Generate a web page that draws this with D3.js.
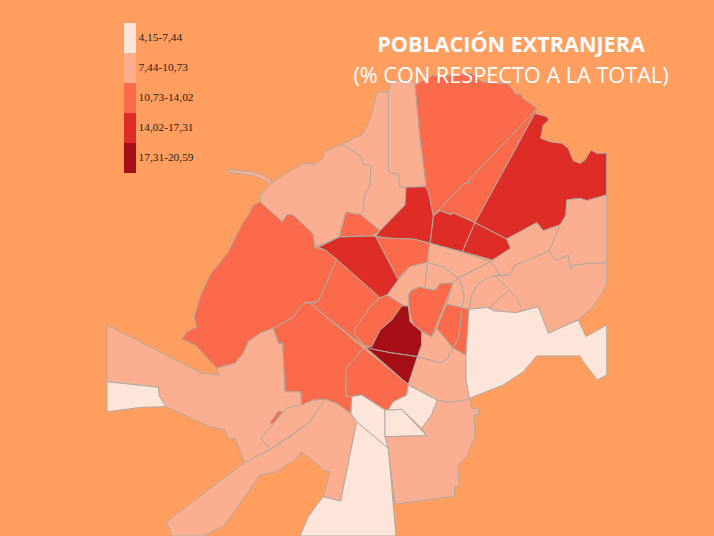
<!DOCTYPE html>
<html>
<head>
<meta charset="utf-8">
<script src="https://d3js.org/d3.v7.min.js"></script>
<style>
    html, body { margin: 0; padding: 0; background: #ff9e5e; }
    svg { display: block; }
</style>
</head>
<body>
<div id="map"></div>
<script>
// Legend classes
const classBreaks = [7.44, 10.73, 14.02, 17.31];
const classColors = ['#fee5d9', '#fcae91', '#fb6a4a', '#de2d26', '#a50f15'];
const classLabels = ['4,15-7,44', '7,44-10,73', '10,73-14,02', '14,02-17,31', '17,31-20,59'];

// % of foreign population per district
const districtValues = [
    9, 9, 9, 9, 12, 12, 12, 16, 16, 16, 16,
    12, 15.5, 12, 12, 12, 19, 19, 12, 9, 6, 9,
    9, 6, 6, 6, 6, 9, 9, 9, 12, 9, 9, 9, 12, 12,
    9, 9, 9, 9, 9, 9, 9, 6, 12
];

// District outlines, in map units
const districtRings = [
    [[260.7,195],[270,185],[283.3,175],[303.3,163.3],[315,164],[322.7,158.3],[324,151.7],[342.3,144],[361.7,157.3],[362.7,164],[371,166],[370,186.7],[364,196],[364,210],[360,214],[355,214],[345.7,212.3],[339.3,236.7],[318.3,246],[315,246],[312.7,233.3],[296.7,218.3],[291.7,214.3],[286.7,215],[282.3,221.7],[260,202.3]],
    [[227.3,169.3],[233,170],[251.7,171.7],[263.3,175],[272.3,181.7],[270,183.3],[255,176],[241.7,174],[230,172.7]],
    [[342.3,144],[356.7,136.7],[361.7,135],[366.7,126.7],[371.7,113.3],[376.7,93.3],[380,92],[388.3,91.7],[388.3,170],[390,173.3],[398.3,173.3],[400,186.7],[406,187.3],[405,205],[380,230.7],[360,214],[364,210],[364,196],[370,186.7],[371,166],[362.7,164],[361.7,157.3]],
    [[388.3,91.7],[391.7,81.7],[398,80],[413,81.7],[415,85],[420,138.3],[426,185],[425,186.7],[406,187.3],[400,186.7],[398.3,173.3],[390,173.3],[388.3,170]],
    [[415,85],[426.7,78.3],[433,75],[440,76.7],[455,75],[471.7,73.3],[481.7,81.7],[508,84],[513,90],[515,93.3],[521.7,95],[523,98.3],[537.3,108.3],[469,180],[468.3,184],[464,183.3],[433.3,216],[428.3,191.7],[425,186.7],[426,185],[420,138.3]],
    [[537.3,108.3],[535,113],[475,222.7],[452.7,212.7],[451.7,215],[440,210.7],[433.3,216],[464,183.3],[468.3,184],[469,180]],
    [[339.3,236.7],[346,211.7],[355,214],[360,214],[380,230.7],[371.7,236]],
    [[535,113.3],[546.7,116.7],[549,120],[543.3,125],[540.7,138.3],[550,141.7],[561.7,143.3],[568.3,148.3],[573.3,160.7],[580,163.3],[585,160],[591,150],[596.7,153.3],[606.7,153.3],[606.7,195],[586.7,200.7],[580,198.3],[566.7,200],[566,215],[560,225],[543.3,230.7],[536.7,222.7],[506.7,239],[475,222.7]],
    [[433.3,216],[440,210.7],[451.7,215],[452.7,212.7],[475,222.7],[462.3,251.7],[430,243.3]],
    [[475,222.7],[506.7,239],[510.7,248.3],[492.7,260],[462.3,251.7]],
    [[406,187.3],[425,186.7],[428.3,191.7],[433.3,216],[430,243.3],[413.3,239],[390,238.3],[375.5,236.5],[380,230.7],[405,205]],
    [[375.5,236.5],[390,238.3],[413.3,239],[430,243.3],[427.3,262.3],[410,266.7],[400,276],[398.3,280]],
    [[318.3,247.3],[339.3,237],[371.7,236],[375.5,236.5],[398.3,280],[387.3,295],[380,297.7],[360,280],[336.7,259.3],[325,250]],
    [[260,201.7],[282.3,221.7],[286.7,215],[291.7,214.3],[296.7,218.3],[312.7,233.3],[315,247.7],[325,250],[336.7,259.3],[318.3,301.7],[305,302.7],[300,306.7],[293.3,317.3],[273.3,328.3],[260,333.3],[248.3,341.7],[243.3,353.3],[235,363.3],[216.7,368.3],[195,345],[181.7,339.3],[186.7,331.7],[196.7,327.3],[194,316.7],[200,296.7],[210,275],[228.3,251.7],[243.3,221.7],[248.3,215],[253.3,205]],
    [[336.7,259.3],[360,280],[380,297.7],[370,306.7],[366.7,315],[355,330],[356.7,336.7],[363.3,346],[310,303.3],[318.3,301.7]],
    [[380,297.7],[387.3,295],[403.3,305],[391.7,320],[380,330],[371.7,346.7],[365,346],[355,335],[355,328.3],[370,306.7]],
    [[401.7,306],[408.3,306],[410,321.7],[421.7,331.7],[421.7,345],[417.5,356.7],[406.7,355],[390,352.7],[373.3,349.3],[365,346.7],[371.7,346.7],[380,330],[391.7,320]],
    [[365,346.7],[373.3,349.3],[390,352.7],[406.7,355],[417.5,356.7],[408.3,384.5]],
    [[363.3,348],[408.3,384.5],[406.7,395],[393.3,401.7],[388.3,410],[385,410],[361.7,395],[351.7,396.7],[346,396],[345.7,368.3]],
    [[107,325],[136.7,340],[201.7,373.3],[219.3,375],[216.7,368.3],[235,363.3],[243.3,353.3],[248.3,341.7],[260,333.3],[273.3,328.3],[279,344],[282.7,342.7],[285,391.7],[300.7,391.7],[301.7,405],[286.7,408.3],[261,438.3],[270.7,449.3],[244,462.7],[241.7,455],[235,438.3],[228.3,438.3],[225,430],[210,426.7],[165.7,406.7],[159.3,396],[158.3,387.3],[107,381.7]],
    [[107,381.7],[158.3,387.3],[159.3,396],[165.7,406.5],[140,407.5],[107,411.7]],
    [[286.7,408.3],[300.7,405],[313,400],[325,399.3],[310,421.7],[270.7,449.3],[261,438.3]],
    [[244,462.7],[270.7,449.3],[290,436.7],[310,421.7],[325,399.3],[336.7,403.3],[350.7,413.3],[356.7,421.7],[340.7,501],[323.3,496.7],[330,471.7],[325,471],[301.7,451.7],[296.7,458.3],[276.7,471.7],[260,475],[224,526],[203,536],[171.7,536],[166.7,521.7]],
    [[323.3,496.7],[340.7,501],[356.7,421.7],[388.3,448.3],[396,536],[300,536],[308.3,516.7],[316.7,505]],
    [[350.7,413.3],[351.7,396.7],[361.7,395],[385,410],[385,436.7],[388.3,448.3],[356.7,421.7]],
    [[385,410],[401.7,409.3],[426.7,435.7],[385,436.7]],
    [[388.3,410],[393.3,401.7],[406.7,395],[408.3,385],[437.3,400],[431.7,415],[421.7,428.3],[401.7,409.3]],
    [[385,436.7],[426.7,435.7],[421.7,428.3],[431.7,415],[437.3,400],[448.3,402.3],[469.3,399.3],[471.7,408.3],[478.3,408.3],[479,414],[474,415],[475,436.7],[466.7,456.7],[457.7,465],[459.3,486],[455,486.7],[454.3,496],[395,504.3],[388.3,448.3]],
    [[408.3,384.5],[417.5,356.7],[440,362.7],[448,358],[450,352],[453.3,348.3],[466,355],[466,380],[469.3,399.3],[448.3,402.3],[437.3,400]],
    [[431.7,336.7],[436.7,328.3],[453.3,348.3],[450,352],[448,358],[440,362.7],[417.5,356.7],[421.7,345],[421.7,331.7]],
    [[408.3,295],[411.7,290],[420,286.7],[425,288.3],[435,290],[440,283.3],[453.3,282.7],[431.7,336.7],[421.7,331],[413.3,325],[409.3,310]],
    [[398.3,280],[410,266.7],[427.3,262.3],[425,288.3],[420,286.7],[411.7,290],[408.3,295],[408.3,306],[403.3,305],[387.3,295]],
    [[427.3,262.3],[443.3,266.7],[458.3,278.3],[453.3,282.7],[440,283.3],[435,290],[425,288.3]],
    [[430,243.3],[462.3,252.3],[491,261.7],[460,276.7],[458.3,278.3],[443.3,266.7],[427.3,262.3]],
    [[446.7,304],[461.7,307.3],[460.7,323.3],[458.3,338.3],[453.3,348.3],[436.7,328.3]],
    [[461.7,307.3],[469,309.3],[466,355],[453.3,348.3],[458.3,338.3],[460.7,323.3]],
    [[458.3,278.3],[491,261.7],[498.3,271.7],[499,275],[490,276.7],[478.3,283.3],[471.7,295],[469.3,309],[461.7,307.3],[464,296.7],[461.7,285]],
    [[453.3,282.7],[458.3,278.3],[461.7,285],[464,296.7],[461.7,307.3],[446.7,304]],
    [[491,261.7],[492.7,260],[510.7,248.3],[506.7,239],[536.7,222.7],[543.3,230.7],[560,225],[549.3,250.7],[536.7,256.7],[515,265],[510,275],[499,275],[498.3,271.7]],
    [[510,275],[515,265],[536.7,256.7],[549.3,250.7],[555.7,260.7],[568.3,255],[571,269],[573.3,265],[588.3,263.3],[606.7,262.7],[606.7,283.3],[603.3,291.7],[593,306.7],[578.3,320],[548.3,333.3],[538.3,306.7],[522.7,310.7],[509.3,290],[495,276]],
    [[490,276.7],[495,276],[509.3,290],[490,307.3],[487.3,307.3],[469.3,309],[471.7,295],[478.3,283.3]],
    [[490,307.3],[509.3,290],[516.7,298.3],[522.7,310.7],[516,312.7],[500,311.7],[493.3,310.7]],
    [[560,225],[566,215],[566.7,200],[580,198.3],[586.7,200.7],[606.7,195],[606.7,262.7],[588.3,263.3],[573.3,265],[571,269],[568.3,255],[555.7,260.7],[549.3,250.7]],
    [[469,309.3],[487.3,307.3],[493.3,310.7],[516,312.7],[538.3,306.7],[548.3,333.3],[578.3,320],[586,336.7],[606.7,325],[606.7,375],[597.3,380],[583.3,361.7],[580,356],[536.7,356],[523.3,371.7],[503.3,385],[469.3,398.3],[466,380],[466,355]],
    [[273.3,328.3],[293.3,317.3],[300,306.7],[305,302.7],[310,303.3],[363.3,348],[345.7,368.3],[346,396],[351.7,396.7],[350.7,413.3],[336.7,403.3],[325,399.3],[313,400],[301.7,405],[300.7,391.7],[285,391.7],[282.7,342.7],[279,344]]
];

// Small sliver of the 10,73-14,02 class on top of the others
const sliverValues = [12];
const sliverRings = [
    [[270,422.7],[272.7,424],[282.7,411.7],[278.3,411]]
];

const width = 714;
const height = 536;
const legendTop = 23;
const legendStep = 30;

const color = d3.scaleThreshold().domain(classBreaks).range(classColors);
const legendY = d3.scaleBand().domain(classLabels).range([legendTop, legendTop + legendStep * classLabels.length]);

const svg = d3.select('#map').append('svg')
    .attr('width', width)
    .attr('height', height);

svg.append('rect')
    .attr('width', width)
    .attr('height', height)
    .attr('fill', '#ff9e5e');

// Map units go straight to the page
const path = d3.geoPath(d3.geoIdentity().clipExtent([[107, 0], [607, 536]]));

const toFeature = (ring, i, values) => ({
    type: 'Feature',
    properties: { value: values[i] },
    geometry: { type: 'Polygon', coordinates: [[...ring, ring[0]]] }
});

const districts = districtRings.map((r, i) => toFeature(r, i, districtValues));
const slivers = sliverRings.map((r, i) => toFeature(r, i, sliverValues));

svg.append('g')
    .selectAll('path')
    .data(districts.concat(slivers))
    .enter()
    .append('path')
    .attr('d', path)
    .attr('fill', d => color(d.properties.value))
    .attr('stroke', '#b0aaa4')
    .attr('stroke-width', 1)
    .attr('stroke-linejoin', 'round');

// Legend
const legend = svg.append('g');

legend.selectAll('rect')
    .data(classLabels)
    .enter()
    .append('rect')
    .attr('x', 124)
    .attr('y', d => legendY(d))
    .attr('width', 12)
    .attr('height', legendY.bandwidth())
    .attr('fill', (d, i) => classColors[i]);

legend.selectAll('text')
    .data(classLabels)
    .enter()
    .append('text')
    .attr('x', 138.5)
    .attr('y', d => legendY(d) + legendY.bandwidth() / 2 - 1)
    .attr('dy', '0.32em')
    .attr('font-family', '"Liberation Serif", serif')
    .attr('font-size', 11.4)
    .attr('fill', '#222')
    .text(d => d);

// Title
svg.append('text')
    .attr('x', 511)
    .attr('y', 52)
    .attr('text-anchor', 'middle')
    .attr('font-family', '"Open Sans", sans-serif')
    .attr('font-weight', 'bold')
    .attr('font-size', 21.6)
    .attr('fill', '#fff')
    .text('POBLACIÓN EXTRANJERA');

svg.append('text')
    .attr('x', 511)
    .attr('y', 83)
    .attr('text-anchor', 'middle')
    .attr('font-family', '"Open Sans", sans-serif')
    .attr('font-size', 21.7)
    .attr('fill', '#fff')
    .text('(% CON RESPECTO A LA TOTAL)');
</script>
</body>
</html>
